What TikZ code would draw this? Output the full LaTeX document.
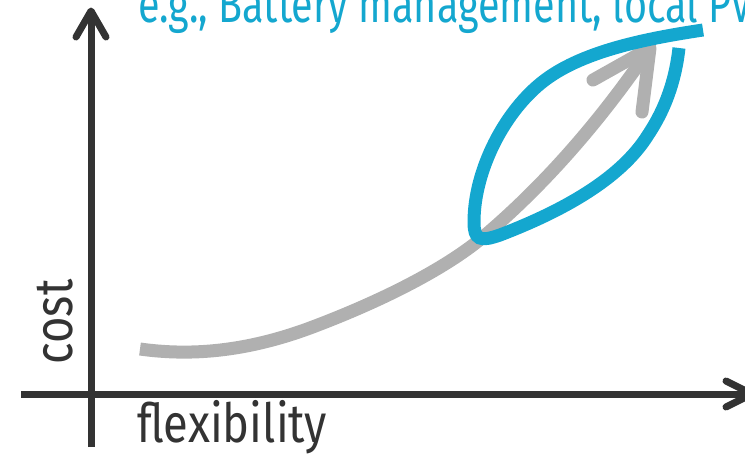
\documentclass[tikz,border=0pt]{standalone}
\usepackage{fontspec}
\newfontfamily\labelfont{Fira Sans}[FakeStretch=0.84]
\newfontfamily\titlefont{Fira Sans}[FakeStretch=0.76]
\definecolor{axisgray}{HTML}{333333}
\definecolor{curvegray}{HTML}{B0B0B0}
\definecolor{leafblue}{HTML}{14A7CF}
\begin{document}
\begin{tikzpicture}[x=1pt,y=-1pt,
  axisline/.style={draw=axisgray,line width=7pt,line cap=round,line join=round},
  trendline/.style={draw=curvegray,line width=13pt,line cap=butt},
  trendhead/.style={draw=curvegray,line width=13pt,line cap=round,line join=round},
  leafline/.style={draw=leafblue,line width=13pt,line cap=butt},
  label/.style={inner sep=0pt,text=axisgray,font=\labelfont\fontsize{54}{60}\selectfont},
  title/.style={inner sep=0pt,text=leafblue,font=\titlefont\fontsize{52}{58}\selectfont}]
\useasboundingbox (0,0) rectangle (745,464);
\clip (0,0) rectangle (745,464);
% axes
\coordinate (ybot) at (91,447);
\coordinate (ytip) at (91,11);
\coordinate (yl) at (76,37);
\coordinate (yr) at (106,37);
\coordinate (xleft) at (21,394);
\coordinate (xtip) at (752,394);
\coordinate (xu) at (726,381);
\coordinate (xd) at (726,407);
\draw[axisline,line cap=butt] (ybot) -- (ytip);
\draw[axisline] (yl) -- (ytip) -- (yr);
\draw[axisline,line cap=butt] (xleft) -- (xtip);
\draw[axisline] (xu) -- (xtip) -- (xd);
% gray trend arrow
\coordinate (gstart) at (140,349);
\coordinate (gmid) at (483,237);
\coordinate (gtip) at (650,48);
\coordinate (gl) at (593,80);
\coordinate (gr) at (642,112);
\draw[trendline] (gstart) .. controls (190,356) and (245,352) .. (310,328)
  .. controls (390,298) and (450,265) .. (gmid)
  .. controls (560,172) and (616,98) .. (gtip);
\draw[trendhead] (gl) -- (gtip) -- (gr);
% blue leaf
\coordinate (bstart) at (703,30);
\coordinate (bend) at (679,48);
\draw[leafline] (bstart) .. controls (650,38) and (585,50) .. (545,80)
  .. controls (505,110) and (474,170) .. (474,222)
  .. controls (474,240) and (480,242) .. (500,235)
  .. controls (560,212) and (620,180) .. (648,135)
  .. controls (668,105) and (676,75) .. (bend);
% labels
\node[label,rotate=90,anchor=base] (cost) at (72,322) {cost};
\node[label,anchor=base west] (flex) at (137,442) {flexibility};
\node[title,anchor=base west] (ttl) at (138,22) {e.g., Battery management, local PV};
\end{tikzpicture}
\end{document}
